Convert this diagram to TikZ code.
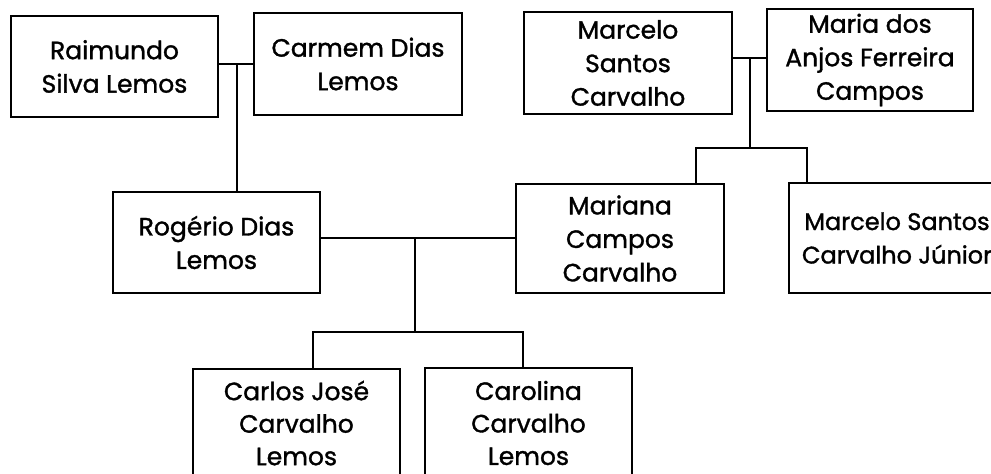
\documentclass[tikz,border=0pt]{standalone}
\usepackage{fontspec}
\setmainfont{Poppins}[FakeBold=1.3]
\begin{document}
\begin{tikzpicture}[x=1pt,y=-1pt,
  person/.style={draw, line width=1.6pt, align=center, inner sep=0pt, font=\fontsize{25}{33.5}\selectfont},
  link/.style={line width=1.4pt}]
\useasboundingbox (0,0) rectangle (991,474);
\node[person, minimum width=207pt, minimum height=101pt] (rai) at (114.5,66.5) {Raimundo\\Silva Lemos};
\node[person, minimum width=208pt, minimum height=102pt] (car) at (358,64) {Carmem Dias\\Lemos};
\node[person, minimum width=208pt, minimum height=102pt] (mce) at (628,63) {Marcelo\\Santos\\Carvalho};
\node[person, minimum width=206pt, minimum height=102pt] (mda) at (870,60) {Maria dos\\Anjos Ferreira\\Campos};
\node[person, minimum width=207pt, minimum height=101pt] (rog) at (216.5,242.5) {Rogério Dias\\Lemos};
\node[person, minimum width=208pt, minimum height=109pt] (mar) at (620,238.5) {Mariana\\Campos\\Carvalho};
\node[person, minimum width=216pt, minimum height=110pt, font=\fontsize{24}{33.5}\selectfont] (jr) at (897,238) {Marcelo Santos\\Carvalho Júnior};
\node[person, minimum width=207pt, minimum height=108pt, font=\fontsize{25}{32.5}\selectfont] (cjc) at (296.5,423) {Carlos José\\Carvalho\\Lemos};
\node[person, minimum width=207pt, minimum height=110pt, font=\fontsize{25}{32.5}\selectfont] (ccl) at (528.5,423) {Carolina\\Carvalho\\Lemos};

\coordinate (j1) at (237,64);
\coordinate (j2) at (750,58);
\coordinate (k2) at (750,148);
\coordinate (k2l) at (696,148);
\coordinate (k2r) at (807,148);
\coordinate (j3) at (415,238);
\coordinate (k3) at (415,332);
\coordinate (k3l) at (313,332);
\coordinate (k3r) at (523,332);

\draw[link] (rai.east |- j1) -- (car.west |- j1);
\draw[link] (j1) -- (j1 |- rog.north);
\draw[link] (mce.east |- j2) -- (mda.west |- j2);
\draw[link] (j2) -- (k2);
\draw[link] (k2l |- mar.north) -- (k2l) -- (k2r) -- (k2r |- jr.north);
\draw[link] (rog.east |- j3) -- (mar.west |- j3);
\draw[link] (j3) -- (k3);
\draw[link] (k3l |- cjc.north) -- (k3l) -- (k3r) -- (k3r |- ccl.north);
\end{tikzpicture}
\end{document}
